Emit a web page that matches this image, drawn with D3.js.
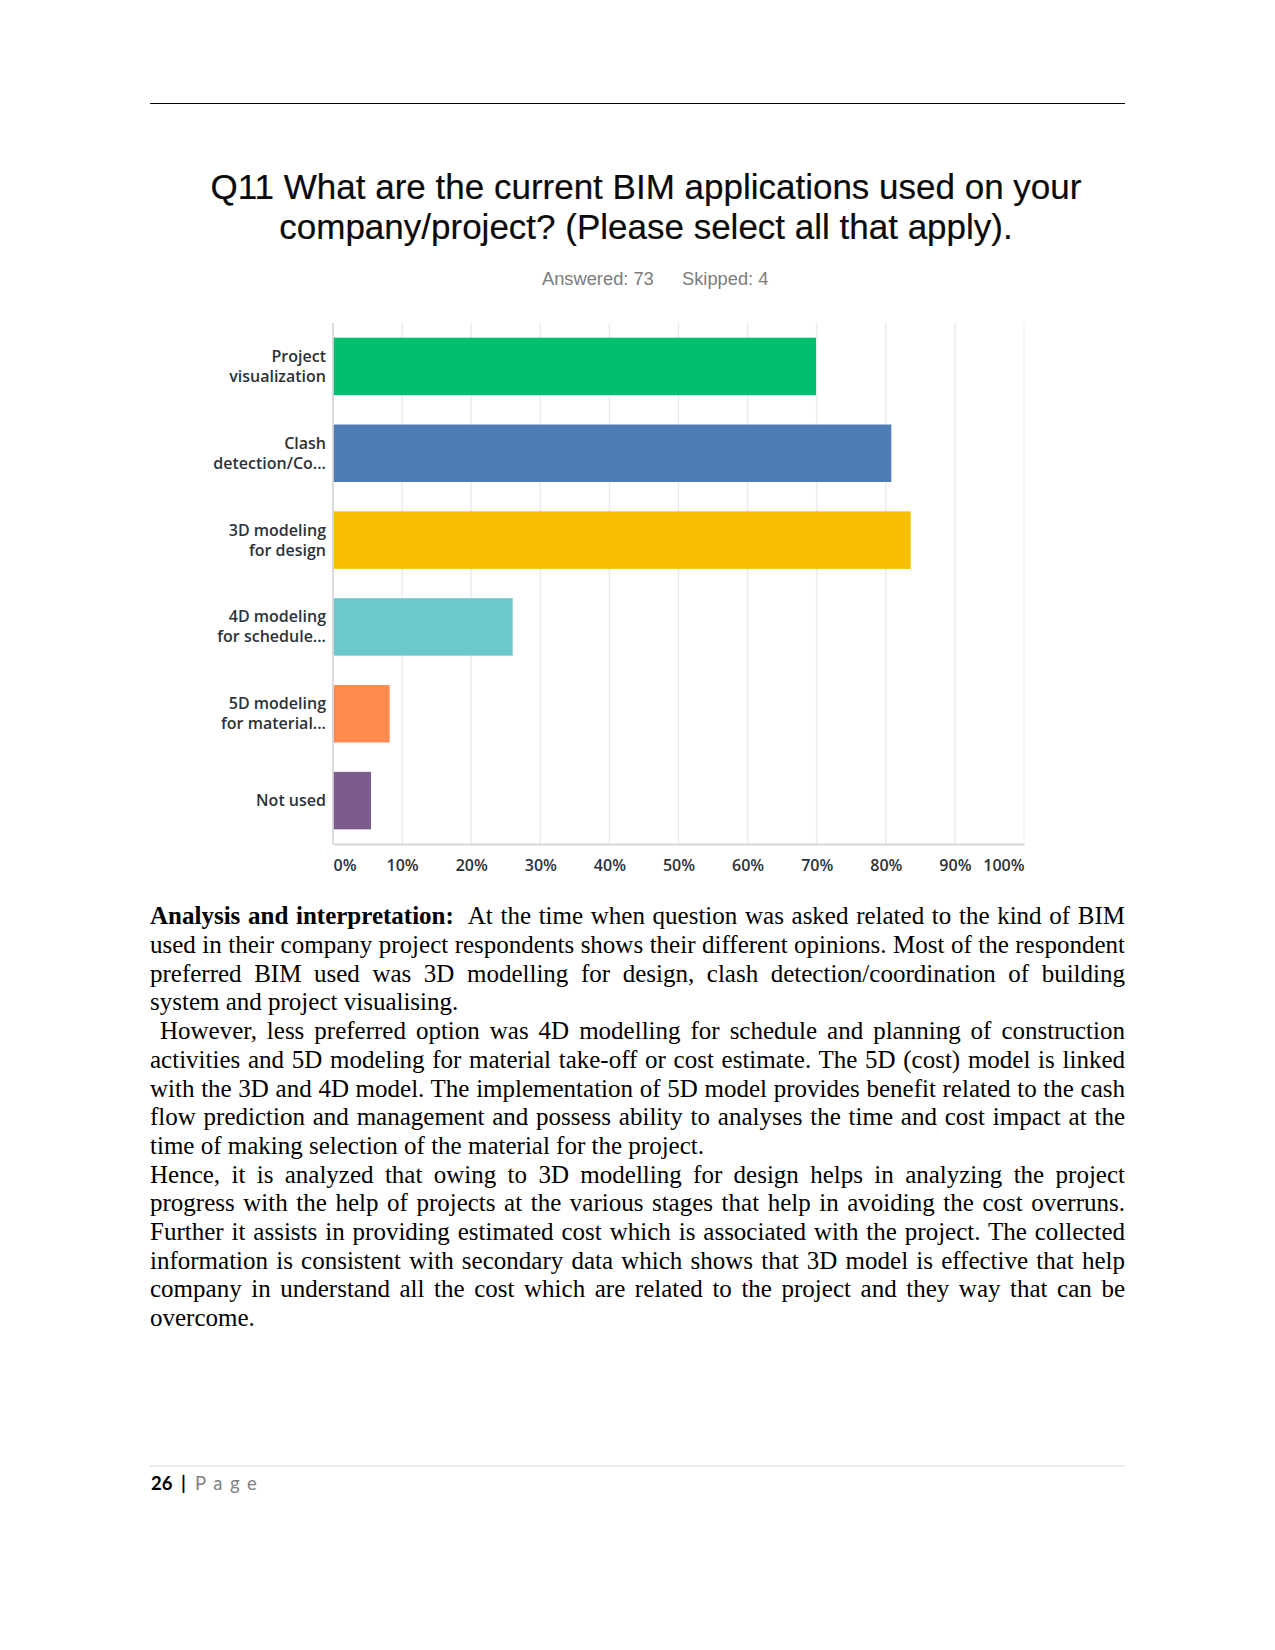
<!DOCTYPE html>
<html lang="en">
<head>
    <meta charset="UTF-8">
    <title>Q11 BIM applications</title>
    <script src="https://d3js.org/d3.v7.js"></script>
    <style>
        body { margin: 0; background: #fff; }
        #page { position: relative; width: 1275px; height: 1650px; background: #fff; overflow: hidden; }
        #chart { position: absolute; left: 0; top: 0; }
        .line {
            position: absolute;
            left: 150px;
            width: 975px;
            font-family: "Liberation Serif", "Times New Roman", serif;
            font-size: 25px;
            line-height: 28.7px;
            color: #000;
            white-space: nowrap;
        }
        .line.just { text-align: justify; text-align-last: justify; white-space: normal; }
        .cat, .tick text { font-family: "Open Sans", sans-serif; font-weight: 600; font-size: 16px; fill: #2c3238; }
    </style>
</head>
<body>
<div id="page">
    <svg id="chart" width="1275" height="1650"></svg>
</div>
<script>
    // ---- data ----
    const categories = ["Project\nvisualization", "Clash\ndetection/Co...", "3D modeling\nfor design",
                        "4D modeling\nfor schedule...", "5D modeling\nfor material...", "Not used"];
    const values = [69.9, 80.8, 83.6, 26.0, 8.2, 5.5];
    const barColors = ["#00bf6f", "#507cb5", "#f8be00", "#6bc8cc", "#ff8b4f", "#7c5c8e"];
    const tickValues = [0, 10, 20, 30, 40, 50, 60, 70, 80, 90, 100];
    const titleLines = ["Q11 What are the current BIM applications used on your",
                        "company/project? (Please select all that apply)."];
    const answered = 73;
    const skipped = 4;

    // paragraph lines: [text, justified?, bold lead-in, indent]
    const bodyLines = [
        ["At the time when question was asked related to the kind of BIM", true, "Analysis and interpretation:"],
        ["used in their company project respondents shows their different opinions. Most of the respondent", true],
        ["preferred BIM used was 3D modelling for design, clash detection/coordination of building", true],
        ["system and project visualising.", false],
        ["However, less preferred option was 4D modelling for schedule and planning of construction", true, null, 10],
        ["activities and 5D modeling for material take-off or cost estimate. The 5D (cost) model is linked", true],
        ["with the 3D and 4D model. The implementation of 5D model provides benefit related to the cash", true],
        ["flow prediction and management and possess ability to analyses the time and cost impact at the", true],
        ["time of making selection of the material for the project.", false],
        ["Hence, it is analyzed that owing to 3D modelling for design helps in analyzing the project", true],
        ["progress with the help of projects at the various stages that help in avoiding the cost overruns.", true],
        ["Further it assists in providing estimated cost which is associated with the project. The collected", true],
        ["information is consistent with secondary data which shows that 3D model is effective that help", true],
        ["company in understand all the cost which are related to the project and they way that can be", true],
        ["overcome.", false]
    ];

    let svg = d3.select("#chart");

    // header rule
    svg.append("line")
        .attr("x1", 150).attr("x2", 1125)
        .attr("y1", 103.5).attr("y2", 103.5)
        .attr("stroke", "#000").attr("stroke-width", 1.2);

    // title
    svg.selectAll(".title")
        .data(titleLines)
        .join("text")
        .classed("title", true)
        .attr("x", 646)
        .attr("y", (d, i) => 199 + i * 39.5)
        .attr("text-anchor", "middle")
        .style("font-family", "'Liberation Sans', Arial, sans-serif")
        .style("font-size", "35px")
        .style("fill", "#0a0a0a")
        .style("stroke", "#0a0a0a")
        .style("stroke-width", 0.2)
        .text(d => d);

    svg.append("text")
        .attr("x", 542).attr("y", 285)
        .style("font-family", "'Liberation Sans', Arial, sans-serif")
        .style("font-size", "18.3px")
        .style("fill", "#7c7c7c")
        .text("Answered: " + answered);
    svg.append("text")
        .attr("x", 682).attr("y", 285)
        .style("font-family", "'Liberation Sans', Arial, sans-serif")
        .style("font-size", "18.3px")
        .style("fill", "#7c7c7c")
        .text("Skipped: " + skipped);

    // ---- chart ----
    let x = d3.scaleLinear().domain([0, 100]).range([333, 1024]);
    let y = d3.scaleBand().domain(categories).range([323, 844])
        .paddingInner(0.338).paddingOuter(0.169);

    // vertical gridlines
    svg.append("g")
        .selectAll("line")
        .data(tickValues.slice(1))
        .join("line")
        .attr("x1", d => x(d)).attr("x2", d => x(d))
        .attr("y1", 323).attr("y2", 844)
        .attr("stroke", d => d === 100 ? "#f4f4f4" : "#ebebeb")
        .attr("stroke-width", 1.5);

    // left axis line
    svg.append("line")
        .attr("x1", x(0)).attr("x2", x(0))
        .attr("y1", 323).attr("y2", 844)
        .attr("stroke", "#cfcfcf").attr("stroke-width", 1.5);

    // bars
    svg.append("g")
        .selectAll("rect")
        .data(values)
        .join("rect")
        .attr("x", x(0) + 0.8)
        .attr("y", (d, i) => y(categories[i]))
        .attr("width", d => x(d) - x(0) - 0.8)
        .attr("height", y.bandwidth())
        .attr("fill", (d, i) => barColors[i]);

    // bottom axis
    let xAxis = svg.append("g")
        .attr("transform", "translate(0,844)")
        .call(d3.axisBottom(x).tickValues(tickValues).tickFormat(d => d + "%").tickSize(0).tickPadding(20));
    xAxis.select(".domain").attr("stroke", "#d6d6d6").attr("stroke-width", 1.8);
    xAxis.selectAll(".tick text")
        .attr("text-anchor", d => d === 0 ? "start" : d === 100 ? "end" : "middle")
        .attr("dy", 0)
        .attr("y", 27);
    xAxis.attr("font-family", null).attr("font-size", null);

    // category labels
    let labels = svg.append("g")
        .selectAll(".cat")
        .data(categories)
        .join("text")
        .classed("cat", true)
        .attr("text-anchor", "end")
        .attr("x", 326)
        .attr("y", d => y(d) + y.bandwidth() / 2);
    labels.each(function (d) {
        let parts = d.split("\n");
        let t = d3.select(this);
        parts.forEach((p, i) => {
            t.append("tspan")
                .attr("x", 326)
                .attr("dy", i === 0 ? (parts.length === 1 ? 5.5 : -4.5) : 20)
                .text(p);
        });
    });

    // ---- body text ----
    let page = d3.select("#page");
    page.selectAll(".line")
        .data(bodyLines)
        .join("div")
        .attr("class", d => d[1] ? "line just" : "line")
        .style("top", (d, i) => (902.3 + i * 28.7) + "px")
        .style("padding-left", d => (d[3] || 0) + "px")
        .style("width", d => (975 - (d[3] || 0)) + "px")
        .each(function (d) {
            let div = d3.select(this);
            if (d[2]) {
                div.append("b").text(d[2]);
                div.append("span").text("\u00a0 " + d[0]);
            } else {
                div.text(d[0]);
            }
        });

    // footer
    svg.append("line")
        .attr("x1", 150).attr("x2", 1125)
        .attr("y1", 1466).attr("y2", 1466)
        .attr("stroke", "#d9d9d9").attr("stroke-width", 1);
    let footFont = "Lato, 'Open Sans', sans-serif";
    svg.append("text")
        .attr("x", 151).attr("y", 1490)
        .style("font-family", footFont).style("font-size", "18.5px")
        .style("font-weight", 700).style("fill", "#000")
        .text("26");
    svg.append("text")
        .attr("x", 181).attr("y", 1490)
        .style("font-family", footFont).style("font-size", "18.5px")
        .style("font-weight", 700).style("fill", "#000")
        .text("|");
    svg.append("text")
        .attr("x", 195).attr("y", 1490)
        .style("font-family", footFont).style("font-size", "18.5px")
        .style("fill", "#808080").style("letter-spacing", "7.5px")
        .text("Page");
</script>
</body>
</html>
